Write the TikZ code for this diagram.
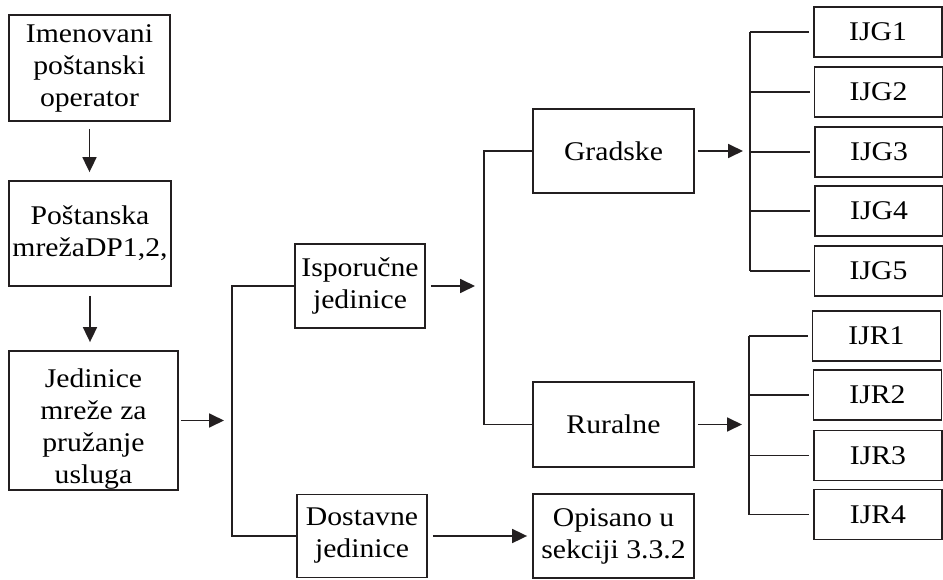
\documentclass[tikz,border=0pt]{standalone}
\usepackage{fontspec}
\setmainfont[FakeStretch=1.1]{Liberation Serif}
\usetikzlibrary{arrows.meta}
\definecolor{ink}{RGB}{35,31,32}
\begin{document}
\begin{tikzpicture}[x=1pt,y=-1pt,
  box/.style={draw=ink, line width=1.8pt, align=center, inner sep=0pt,
              font=\fontsize{27}{32}\selectfont, text=black},
  small/.style={box, minimum width=128, minimum height=50},
  conn/.style={draw=ink, line width=1.8pt},
  arr/.style={conn, -{Triangle[length=15pt,width=14pt]}}]
\useasboundingbox (0,0) rectangle (943,580);

% left column
\node[box, minimum width=161, minimum height=106] (op) at (89.5,68) {Imenovani\\poštanski\\operator};
\node[box, minimum width=162, minimum height=105] (pm) at (90,233.5) {Poštanska\\mrežaDP1,2,};
\node[box, minimum width=169, minimum height=139] (jm) at (93.5,420.5) {\rule{0pt}{35pt}Jedinice\\mreže za\\pružanje\\usluga};

% middle
\node[box, minimum width=130, minimum height=84] (isp) at (360,286) {Isporučne\\jedinice};
\node[box, minimum width=130, minimum height=83] (dost) at (362,536) {Dostavne\\jedinice};
\node[box, minimum width=161, minimum height=84] (grad) at (613.5,151) {Gradske};
\node[box, minimum width=161, minimum height=85] (rur) at (613.5,424.5) {Ruralne};
\node[box, minimum width=161, minimum height=84] (opis) at (613.5,536) {Opisano u\\sekciji 3.3.2};

% right boxes
\node[small] (g1) at (878,32) {IJG1};
\node[small] (g2) at (878.5,92) {IJG2};
\node[small] (g3) at (879,152) {IJG3};
\node[small] (g4) at (879,211) {IJG4};
\node[small] (g5) at (878.5,271) {IJG5};
\node[small] (r1) at (876.5,336) {IJR1};
\node[small] (r2) at (877.5,395) {IJR2};
\node[small] (r3) at (878,455.5) {IJR3};
\node[small] (r4) at (878,514.5) {IJR4};

% bracket x positions
\coordinate (b1) at (232,0);
\coordinate (b2) at (484,0);
\coordinate (gv) at (750,0);
\coordinate (rv) at (749,0);

% vertical arrows
\draw[arr, shorten <=7pt, shorten >=8pt] (op.south) -- (op.south |- pm.north);
\draw[arr, shorten <=9pt, shorten >=8pt] (pm.south) -- (pm.south |- jm.north);

% to first bracket
\draw[arr, shorten <=2pt, shorten >=8pt] (jm.east) -- (jm.east -| b1);
\draw[conn] (isp.west) -- (isp.west -| b1) -- (dost.west -| b1) -- (dost.west);

% second bracket
\draw[arr, shorten <=5pt, shorten >=9pt] (isp.east) -- (isp.east -| b2);
\draw[conn] (grad.west) -- (grad.west -| b2) -- (rur.west -| b2) -- (rur.west);

% dostavne -> opisano
\draw[arr, shorten <=5pt, shorten >=5pt] (dost.east) -- (opis.west);

% gradske -> IJG
\draw[arr, shorten <=3pt, shorten >=7pt] (grad.east) -- (grad.east -| gv);
\draw[conn] (g1.west -| gv) -- (g5.west -| gv);
\foreach \n in {g1,g2,g3,g4,g5}
  \draw[conn, shorten >=4pt] (\n.west -| gv) -- (\n.west);

% ruralne -> IJR
\draw[arr, shorten <=3pt, shorten >=7pt] (rur.east) -- (rur.east -| rv);
\draw[conn] (r1.west -| rv) -- (r4.west -| rv);
\foreach \n in {r1,r2,r3,r4}
  \draw[conn, shorten >=4pt] (\n.west -| rv) -- (\n.west);
\end{tikzpicture}
\end{document}
